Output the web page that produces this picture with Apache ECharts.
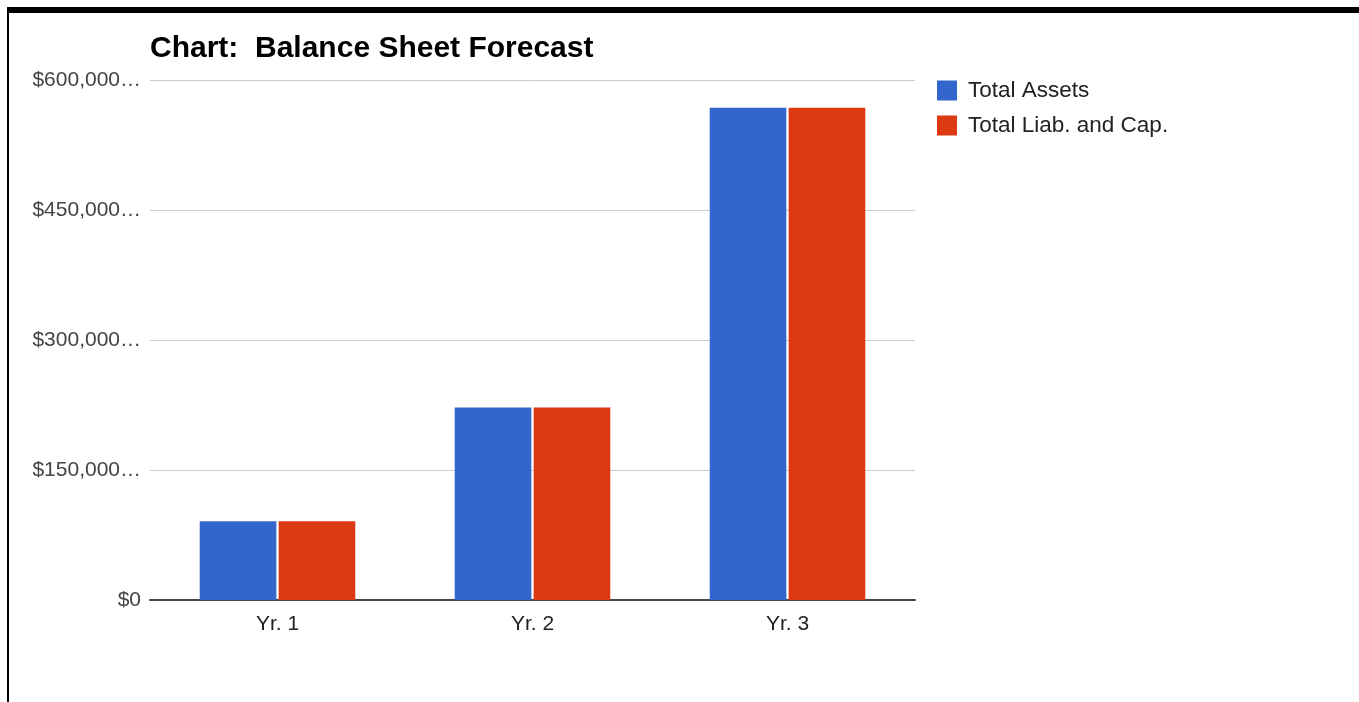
<!DOCTYPE html>
<html>
<head>
<meta charset="utf-8">
<title>Balance Sheet Forecast</title>
<script src="https://cdn.jsdelivr.net/npm/echarts@6/dist/echarts.min.js"></script>
<style>
  html, body { margin: 0; padding: 0; background: #fff; }
  #chart { width: 1359px; height: 702px; }
  #frame {
    position: absolute; left: 7px; top: 7px; width: 1352px; height: 695px;
    border-top: 6px solid #000; border-left: 2px solid #000;
    box-sizing: border-box; pointer-events: none;
  }
</style>
</head>
<body>
<div id="chart"></div>
<div id="frame"></div>
<script>
// data
var years = ["Yr. 1", "Yr. 2", "Yr. 3"];
var totalAssets = [91000, 222000, 568000];
var totalLiabCap = [91000, 222000, 568000];
var yTicks = ["$0", "$150,000…", "$300,000…", "$450,000…", "$600,000…"];

var font = "Liberation Sans, Arial, sans-serif";

var myChart = echarts.init(document.getElementById("chart"));

var option = {
  animation: false,
  title: {
    text: "Chart:  Balance Sheet Forecast",
    left: 145,
    top: 29,
    textStyle: { fontFamily: font, fontSize: 30, fontWeight: "bold", color: "#000" }
  },
  legend: {
    orient: "vertical",
    left: 932,
    top: 74,
    itemWidth: 20,
    itemHeight: 20,
    itemGap: 12,
    icon: "rect",
    textStyle: { fontFamily: font, fontSize: 22.5, color: "#222", padding: [2, 0, 0, 6] },
    data: ["Total Assets", "Total Liab. and Cap."]
  },
  grid: { left: 150, right: 444, top: 80, bottom: 102, containLabel: false },
  xAxis: {
    type: "category",
    data: years,
    axisLine: { lineStyle: { color: "#444", width: 2 } },
    axisTick: { show: false },
    axisLabel: { fontFamily: font, fontSize: 21, color: "#222", margin: 14 }
  },
  yAxis: {
    type: "value",
    min: 0,
    max: 600000,
    interval: 150000,
    axisLine: { show: false },
    axisTick: { show: false },
    splitLine: { lineStyle: { color: "#ccc", width: 1 } },
    axisLabel: {
      fontFamily: font, fontSize: 21, color: "#444", margin: 9,
      formatter: function (v) { return yTicks[Math.round(v / 150000)]; }
    }
  },
  series: [
    {
      name: "Total Assets",
      type: "bar",
      data: totalAssets,
      itemStyle: { color: "#3366cc" },
      barGap: "3%",
      barCategoryGap: "39%"
    },
    {
      name: "Total Liab. and Cap.",
      type: "bar",
      data: totalLiabCap,
      itemStyle: { color: "#dc3912" }
    }
  ]
};

myChart.setOption(option);
</script>
</body>
</html>
